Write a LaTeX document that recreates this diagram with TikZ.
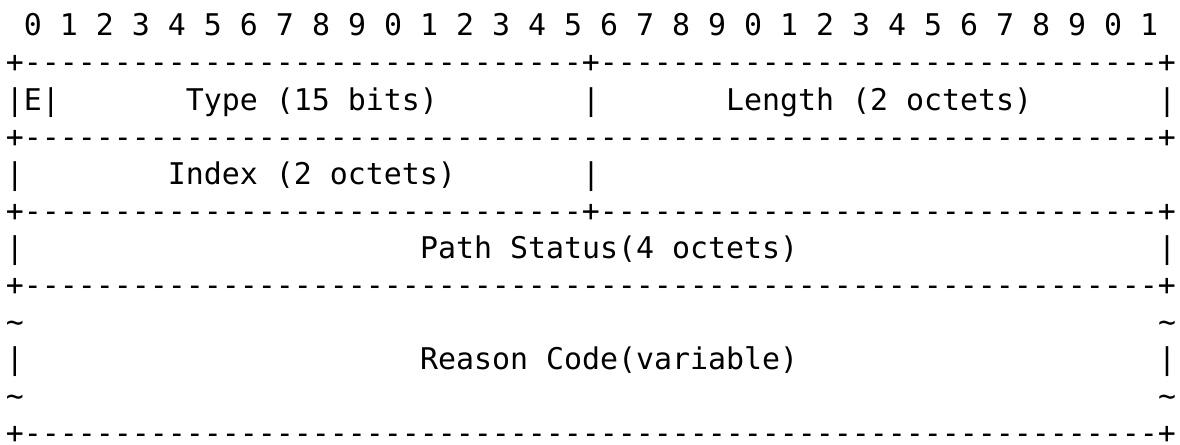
\documentclass[tikz,border=0pt]{standalone}
\usepackage{fontspec}
\setmonofont{DejaVu Sans Mono}

\tikzset{
  ascii/.style={anchor=base west, inner sep=0pt, outer sep=0pt,
    font=\ttfamily\fontsize{14.95}{18}\selectfont},
}

\begin{document}
\begin{tikzpicture}[x=9pt, y=-18.5pt]
            \useasboundingbox (-0.333,-0.973) rectangle (65.222,11.027);

            % bit numbers
            \foreach \k in {0,...,31} {
                \pgfmathtruncatemacro{\dig}{mod(\k,10)}
                \node(bit\k) at ({1+2*\k},0) [ascii] {\dig};
            }

            \node(sep1) at (0,1) [ascii] {+-------------------------------+-------------------------------+};

            \node(ebar) at (0,2) [ascii] {|E|};
            \node(type) at (10,2) [ascii] {Type (15 bits)};
            \node(midbar1) at (32,2) [ascii] {|};
            \node(length) at (40,2) [ascii] {Length (2 octets)};
            \node(rbar1) at (64,2) [ascii] {|};

            \node(sep2) at (0,3) [ascii] {+---------------------------------------------------------------+};

            \node(lbar2) at (0,4) [ascii] {|};
            \node(index) at (9,4) [ascii] {Index (2 octets)};
            \node(midbar2) at (32,4) [ascii] {|};

            \node(sep3) at (0,5) [ascii] {+-------------------------------+-------------------------------+};

            \node(lbar3) at (0,6) [ascii] {|};
            \node(status) at (23,6) [ascii] {Path Status(4 octets)};
            \node(rbar3) at (64,6) [ascii] {|};

            \node(sep4) at (0,7) [ascii] {+---------------------------------------------------------------+};

            \node(ltilde1) at (0,8) [ascii] {\textasciitilde};
            \node(rtilde1) at (64,8) [ascii] {\textasciitilde};
            \node(lbar4) at (0,9) [ascii] {|};
            \node(reason) at (23,9) [ascii] {Reason Code(variable)};
            \node(rbar4) at (64,9) [ascii] {|};
            \node(ltilde2) at (0,10) [ascii] {\textasciitilde};
            \node(rtilde2) at (64,10) [ascii] {\textasciitilde};

            \node(sep5) at (0,11) [ascii] {+---------------------------------------------------------------+};
        \end{tikzpicture}
\end{document}
